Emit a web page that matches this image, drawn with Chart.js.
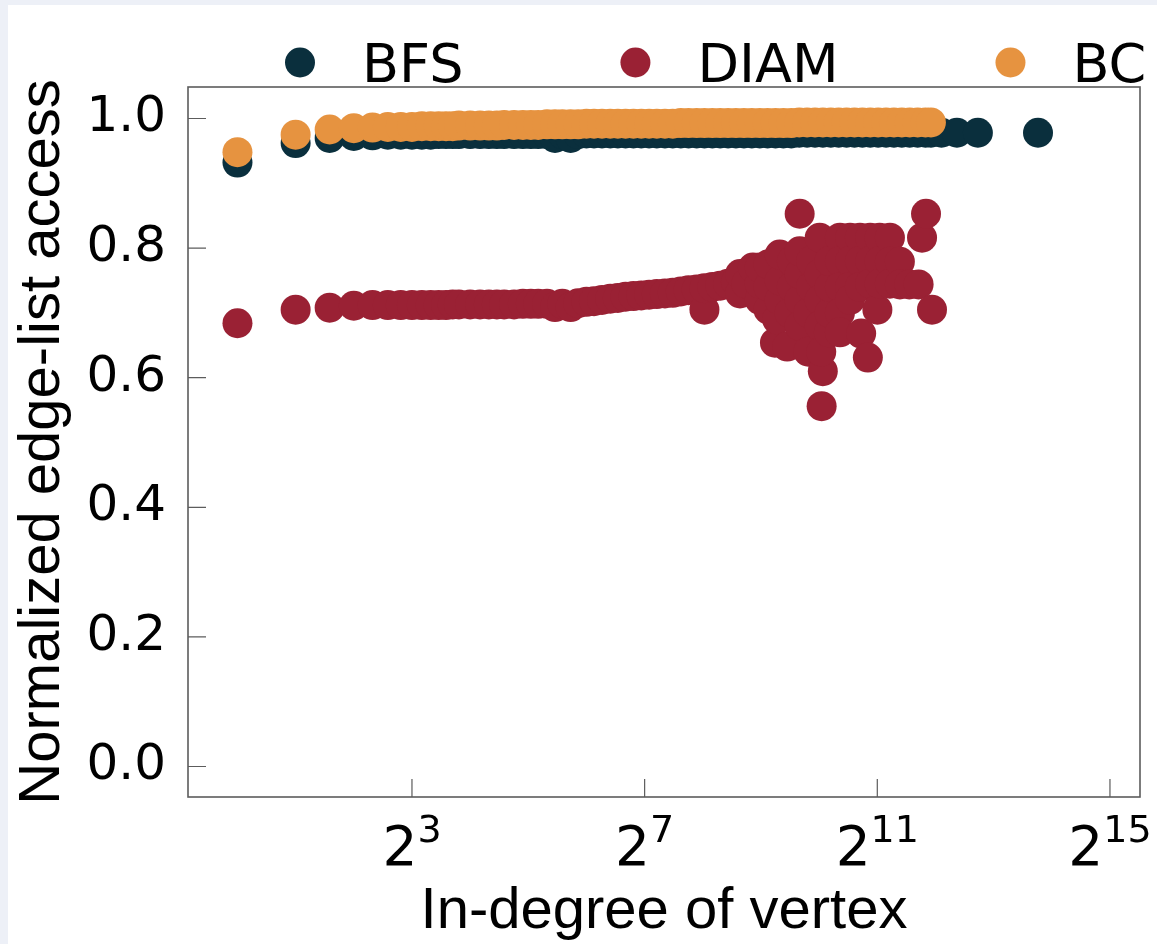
<!DOCTYPE html>
<html>
<head>
<meta charset="utf-8">
<title>Normalized edge-list access vs in-degree</title>
<script src="https://cdn.jsdelivr.net/npm/chart.js@4.4.0/dist/chart.umd.min.js"></script>
<style>
  html, body { margin: 0; padding: 0; background: #edf0f7; }
  #wrap { position: absolute; left: 8px; top: 5px; width: 1149px; height: 939px; background: #fff; }
  canvas { display: block; }
</style>
</head>
<body>
<div id="wrap"><canvas id="accessChart" width="1149" height="939"></canvas></div>
<script>
// in-degree of the vertex (x) and normalized edge-list access (y)
const bfsDegree = [1, 2, 3, 4, 5, 6, 7, 8, 9, 10, 11, 12, 13, 14, 16, 18, 20, 22, 24, 27, 30, 33, 36, 40, 44, 48, 53, 58, 64,
    70, 77, 85, 93, 102, 112, 123, 135, 148, 163, 179, 197, 216, 238, 261, 287, 315, 346, 380, 418, 459, 505, 554, 609,
    669, 735, 808, 887, 975, 1071, 1177, 1293, 1420, 1560, 1714, 1883, 2069, 2273, 2497, 2743, 3014, 3311, 3638, 3880,
    4400, 5290, 6790, 13900];
const bfsAccess = [0.932, 0.962, 0.970, 0.973, 0.974, 0.975, 0.975, 0.975, 0.975, 0.975, 0.976, 0.976, 0.976, 0.976, 0.976,
    0.976, 0.976, 0.976, 0.976, 0.976, 0.976, 0.976, 0.976, 0.976, 0.970, 0.976, 0.970, 0.976, 0.977,
    0.977, 0.977, 0.977, 0.977, 0.977, 0.977, 0.977, 0.977, 0.977, 0.977, 0.977, 0.977, 0.977, 0.977, 0.977, 0.977, 0.977,
    0.977, 0.977, 0.977, 0.977, 0.977, 0.977, 0.977, 0.977, 0.977, 0.978, 0.978, 0.978, 0.978, 0.978, 0.978, 0.978, 0.978,
    0.978, 0.978, 0.978, 0.978, 0.978, 0.978, 0.978, 0.978, 0.978, 0.978,
    0.978, 0.978, 0.978, 0.978];

const bcDegree = [1, 2, 3, 4, 5, 6, 7, 8, 9, 10, 11, 12, 13, 14, 16, 18, 20, 22, 24, 27, 30, 33, 36, 40, 44, 48, 53, 58, 64,
    70, 77, 85, 93, 102, 112, 123, 135, 148, 163, 179, 197, 216, 238, 261, 287, 315, 346, 380, 418, 459, 505, 554, 609,
    669, 735, 808, 887, 975, 1071, 1177, 1293, 1420, 1560, 1714, 1883, 2069, 2273, 2497, 2743, 3014, 3311, 3638, 3880];
const bcAccess = [0.948, 0.975, 0.983, 0.985, 0.986, 0.987, 0.987, 0.987, 0.988, 0.988, 0.988, 0.988, 0.988, 0.989, 0.989,
    0.989, 0.989, 0.989, 0.990, 0.990, 0.990, 0.990, 0.990, 0.991, 0.991, 0.991, 0.991, 0.991, 0.992,
    0.992, 0.992, 0.992, 0.992, 0.992, 0.992, 0.992, 0.992, 0.992, 0.992, 0.992, 0.993, 0.993, 0.993, 0.993, 0.993, 0.993,
    0.993, 0.993, 0.993, 0.993, 0.993, 0.993, 0.993, 0.993, 0.993, 0.994, 0.994, 0.994, 0.994, 0.994, 0.994, 0.994, 0.994,
    0.994, 0.994, 0.994, 0.994, 0.994, 0.994, 0.994, 0.994, 0.994, 0.994];

const diamDegree = [1, 2, 3, 4, 5, 6, 7, 8, 9, 10, 11, 12, 13, 14, 16, 18, 20, 22, 24, 27, 30, 33, 36, 40, 44, 48, 53, 58, 64,
    70, 77, 85, 93, 102, 112, 123, 135, 148, 163, 179, 197, 216, 238, 261, 261, 287, 315, 346, 380,
    399, 399, 430, 465, 505, 505, 505, 560, 560, 560, 605, 620, 640, 640, 640, 700, 720, 740, 740,
    812, 812, 812, 812, 812, 900, 900, 930, 930, 1031, 1031, 1031, 1031, 1055, 1070, 1050, 1150,
    1160, 1160, 1160, 1312, 1312, 1312, 1312, 1312, 1480, 1480, 1480, 1480, 1665, 1665, 1665, 1690, 1830,
    1880, 1880, 1880, 2050, 2106, 2106, 2106, 2380, 2380, 2380, 2680, 2680, 3000, 3350, 3490, 3660, 3930];
const diamAccess = [0.684, 0.705, 0.708, 0.711, 0.712, 0.712, 0.712, 0.712, 0.712, 0.712, 0.712, 0.712, 0.713, 0.713, 0.713,
    0.713, 0.713, 0.713, 0.713, 0.713, 0.714, 0.714, 0.714, 0.714, 0.709, 0.714, 0.709, 0.715, 0.717,
    0.718, 0.720, 0.722, 0.723, 0.725, 0.726, 0.727, 0.728, 0.729, 0.730, 0.731, 0.733, 0.735, 0.736, 0.705, 0.738,
    0.740, 0.742, 0.745, 0.748,
    0.730, 0.760, 0.745, 0.770, 0.720, 0.745, 0.770, 0.705, 0.740, 0.775, 0.654, 0.690, 0.720, 0.750, 0.790, 0.648,
    0.700, 0.740, 0.780,
    0.853, 0.680, 0.720, 0.760, 0.795, 0.640, 0.700, 0.740, 0.780, 0.816, 0.760, 0.720, 0.680, 0.556, 0.610, 0.640, 0.670,
    0.700, 0.740, 0.780, 0.816, 0.780, 0.740, 0.700, 0.670, 0.816, 0.780, 0.740, 0.720, 0.816, 0.780, 0.740, 0.668, 0.631,
    0.816, 0.780, 0.745, 0.705, 0.816, 0.780, 0.745, 0.816, 0.779, 0.745, 0.779, 0.744, 0.744, 0.744, 0.816, 0.853, 0.705];

const seriesNames = ['BFS', 'DIAM', 'BC'];
const seriesColors = ['#0a2f3d', '#9a2134', '#e69340'];

const xTickValues = [8, 128, 2048, 32768];
const xTickExponents = ['3', '7', '11', '15'];
const yTickValues = [0, 0.2, 0.4, 0.6, 0.8, 1.0];

const toPoints = (xs, ys) => xs.map((d, i) => ({ x: d, y: ys[i] }));

// inward tick marks, frame and the 2^n labels under the x axis
const frameAndTicks = {
    id: 'frameAndTicks',
    afterDatasetsDraw(chart) {
        const { ctx, chartArea: a, scales: { x, y } } = chart;
        ctx.save();
        ctx.strokeStyle = '#5c5c5c';
        ctx.lineWidth = 1.6;
        ctx.strokeRect(a.left, a.top, a.right - a.left, a.bottom - a.top);
        ctx.lineWidth = 1.2;
        ctx.beginPath();
        xTickValues.forEach(v => {
            const px = x.getPixelForValue(v);
            ctx.moveTo(px, a.bottom);
            ctx.lineTo(px, a.bottom - 18);
        });
        yTickValues.forEach(v => {
            const py = y.getPixelForValue(v);
            ctx.moveTo(a.left, py);
            ctx.lineTo(a.left + 18, py);
        });
        ctx.stroke();

        ctx.fillStyle = '#000';
        ctx.textAlign = 'left';
        ctx.textBaseline = 'alphabetic';
        xTickValues.forEach((v, i) => {
            const px = x.getPixelForValue(v);
            ctx.font = '55px "DejaVu Sans"';
            const wb = ctx.measureText('2').width;
            ctx.font = '38px "DejaVu Sans"';
            const we = ctx.measureText(xTickExponents[i]).width;
            const left = px - (wb + we) / 2;
            ctx.font = '55px "DejaVu Sans"';
            ctx.fillText('2', left, a.bottom + 68);
            ctx.font = '38px "DejaVu Sans"';
            ctx.fillText(xTickExponents[i], left + wb, a.bottom + 45);
        });
        ctx.restore();
    }
};

// one-row legend above the axes
const legendRow = {
    id: 'legendRow',
    afterDraw(chart) {
        const ctx = chart.ctx;
        ctx.save();
        ctx.font = '54px "DejaVu Sans"';
        ctx.textAlign = 'left';
        ctx.textBaseline = 'alphabetic';
        let cx = 292;
        chart.data.datasets.forEach(ds => {
            ctx.fillStyle = ds.backgroundColor;
            ctx.beginPath();
            ctx.arc(cx, 57.5, 15, 0, Math.PI * 2);
            ctx.fill();
            ctx.fillStyle = '#000';
            ctx.fillText(ds.label, cx + 62, 77);
            cx += 62 + ctx.measureText(ds.label).width + 172;
        });
        ctx.restore();
    }
};

const canvas = document.getElementById('accessChart');

new Chart(canvas, {
    type: 'scatter',
    data: {
        datasets: [
            { label: seriesNames[0], data: toPoints(bfsDegree, bfsAccess), backgroundColor: seriesColors[0], order: 3 },
            { label: seriesNames[1], data: toPoints(diamDegree, diamAccess), backgroundColor: seriesColors[1], order: 2 },
            { label: seriesNames[2], data: toPoints(bcDegree, bcAccess), backgroundColor: seriesColors[2], order: 1 }
        ]
    },
    options: {
        responsive: false,
        animation: false,
        elements: {
            point: { radius: 15, hoverRadius: 15, borderWidth: 0 }
        },
        layout: { padding: { top: 82, right: 17, left: 0, bottom: 0 } },
        plugins: {
            legend: { display: false },
            tooltip: { enabled: false }
        },
        scales: {
            x: {
                type: 'logarithmic',
                min: 0.5546,
                max: 46870,
                grid: { display: false, drawTicks: false },
                border: { display: false },
                ticks: { display: false },
                afterBuildTicks: s => { s.ticks = xTickValues.map(v => ({ value: v })); },
                afterFit: s => { s.height = 147; },
                title: {
                    display: true,
                    text: 'In-degree of vertex',
                    color: '#000',
                    font: { family: '"Liberation Sans"', size: 58, lineHeight: 1.1 },
                    padding: { top: 0, bottom: 0 }
                }
            },
            y: {
                min: -0.0471,
                max: 1.0486,
                grid: { display: false, drawTicks: false },
                border: { display: false },
                afterBuildTicks: s => { s.ticks = yTickValues.map(v => ({ value: v })); },
                afterFit: s => { s.width = 180; },
                ticks: {
                    color: '#000',
                    padding: 22,
                    font: { family: '"DejaVu Sans"', size: 50 },
                    callback: v => Number(v).toFixed(1)
                },
                title: {
                    display: true,
                    text: 'Normalized edge-list access',
                    color: '#000',
                    font: { family: '"Liberation Sans"', size: 58, lineHeight: 1.2 },
                    padding: { top: 0, bottom: 0 }
                }
            }
        }
    },
    plugins: [frameAndTicks, legendRow]
});
</script>
</body>
</html>
